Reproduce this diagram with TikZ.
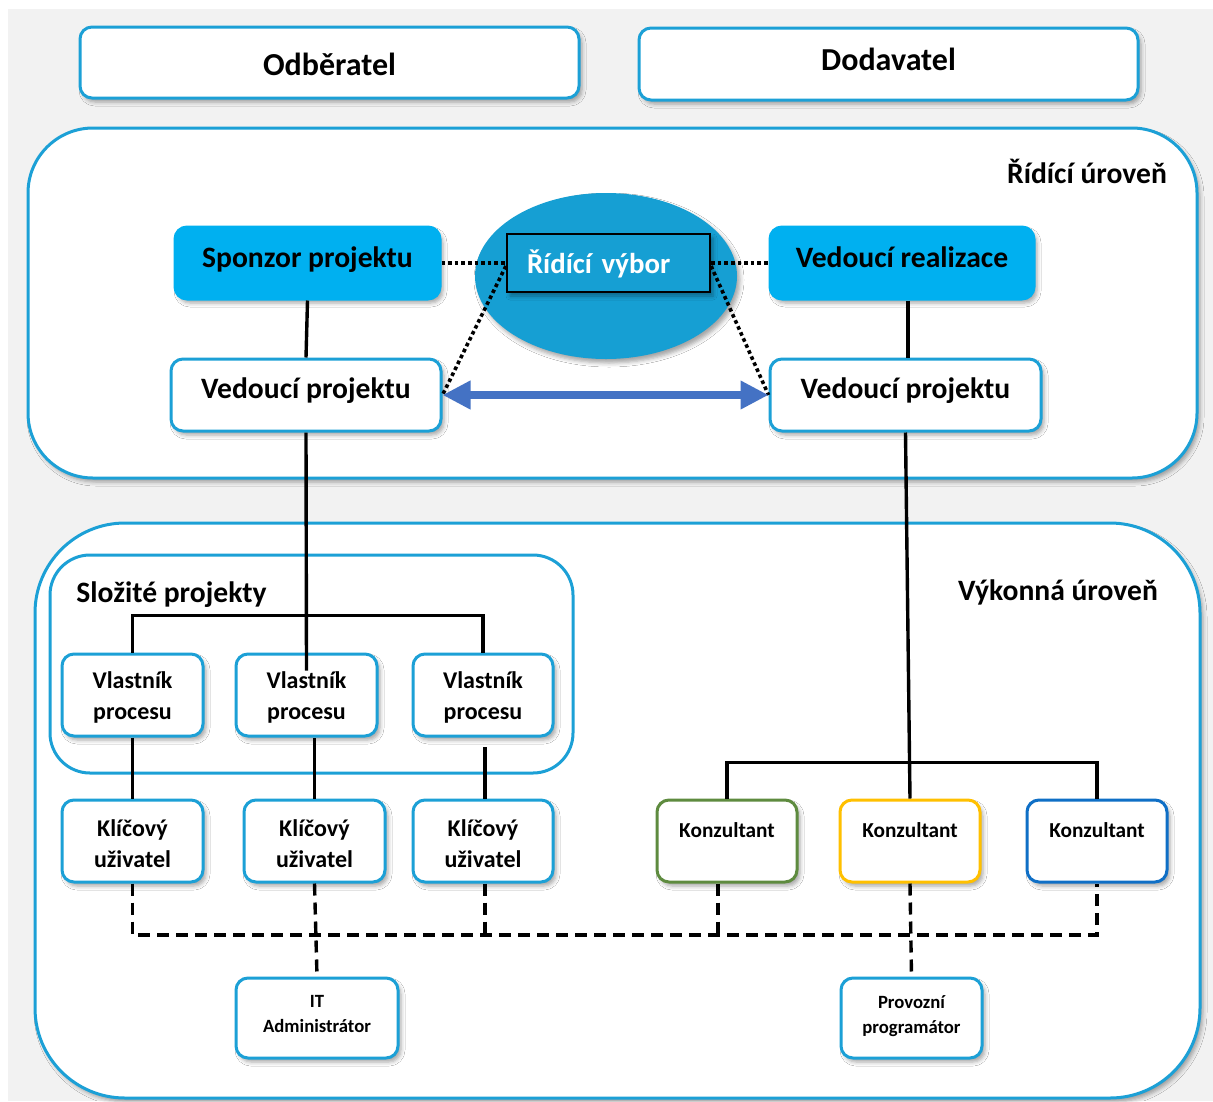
\documentclass[tikz,border=0pt]{standalone}
\usepackage{fontspec}
\setmainfont{Carlito}
\usetikzlibrary{arrows.meta,shadows.blur,calc,shapes.geometric}
\definecolor{cyanB}{HTML}{1CA0D6}
\definecolor{sponz}{HTML}{00B0F0}
\definecolor{ellc}{HTML}{169FD3}
\definecolor{bggray}{HTML}{F2F2F2}
\definecolor{kgreen}{HTML}{5E8B3F}
\definecolor{kyellow}{HTML}{FFC000}
\definecolor{kblue}{HTML}{0F6FC6}
\definecolor{arrowblue}{HTML}{4472C4}
\newcommand{\topst}[1]{\rule{0pt}{#1}}
\newcommand{\botst}[1]{\rule[-#1]{0pt}{#1}}
\tikzset{
  shd/.style={blur shadow={shadow xshift=3pt, shadow yshift=-4pt, shadow blur radius=4pt, shadow opacity=35}},
  panel/.style={draw=cyanB, line width=3pt, fill=white, shd, inner sep=0pt},
  box/.style={draw=cyanB, line width=3pt, fill=white, rounded corners=12pt, align=center, inner sep=0pt, shd},
  fbox/.style={box, fill=sponz, draw=sponz},
  bigf/.style={font=\bfseries\fontsize{29.6}{35}\selectfont},
  topf/.style={font=\bfseries\fontsize{32}{38}\selectfont},
  midf/.style={font=\bfseries\fontsize{24}{31}\selectfont},
  konf/.style={font=\bfseries\fontsize{21.3}{25}\selectfont},
  smf/.style={font=\bfseries\fontsize{18.7}{25}\selectfont},
  conn/.style={line width=3.4pt, black},
  dashline/.style={line width=3.4pt, black, dash pattern=on 12pt off 7pt},
  dotline/.style={line width=3.6pt, black, dash pattern=on 3.6pt off 3pt},
  konz/.style={box, konf, minimum width=140pt, minimum height=82pt, text height=13pt, text depth=21pt},
  td/.style 2 args={text height=#1pt, text depth=#2pt},
}
\begin{document}
\begin{tikzpicture}[x=1pt,y=-1pt]
\useasboundingbox (0,0) rectangle (1213,1101);
\fill[bggray] (8,9) rectangle (1213,1101);

% header boxes
\node[box, topf, td={27}{1}, minimum width=499pt, minimum height=71pt] (odb) at (329.5,62.5) {Odběratel};
\node[box, topf, td={22}{9}, minimum width=499pt, minimum height=72pt] (dod) at (888.5,64) {Dodavatel};

% panels
\node[panel, rounded corners=65pt, minimum width=1169pt, minimum height=350pt] (ridpanel) at (612.5,303) {};
\node[panel, rounded corners=90pt, minimum width=1165pt, minimum height=575pt] (vykpanel) at (617.5,810.5) {};
\node[bigf, anchor=center] (ridlabel) at (1087,171) {Řídící úroveň};
\node[bigf, anchor=center] (vyklabel) at (1058,592) {Výkonná úroveň};
\node[draw=cyanB, line width=3pt, fill=white, inner sep=0pt, rounded corners=40pt, minimum width=523pt, minimum height=218pt] (slozpanel) at (311.5,664) {};
\node[font=\bfseries\fontsize{29.6}{35}\selectfont] (slozlabel) at (171.5,595) {Složité projekty};

% steering level
\node[ellipse, fill=ellc, minimum width=262pt, minimum height=166pt, inner sep=0pt, shd] (ell) at (606,276) {};
\node[draw=black, line width=2.2pt, fill=ellc, minimum width=203pt, minimum height=58pt, text width=163pt, align=left, inner sep=0pt, font=\bfseries\fontsize{28.8}{34}\selectfont, td={26}{6}, text=white, shd] (rv) at (608.5,263) {Řídící výbor};
\node[fbox, bigf, td={21}{12}, minimum width=265pt, minimum height=72pt] (sp) at (307.5,263) {Sponzor projektu};
\node[fbox, bigf, td={21}{13}, minimum width=264pt, minimum height=72pt] (vr) at (902,263) {Vedoucí realizace};
\node[box, bigf, td={21}{14}, minimum width=270pt, minimum height=72pt] (vpL) at (306,395) {Vedoucí projektu};
\node[box, bigf, td={21}{14}, minimum width=271pt, minimum height=72pt] (vpR) at (905.5,395) {Vedoucí projektu};

% process owners
\node[box, midf, minimum width=141pt, minimum height=82pt] (vl1) at (132.5,695) {\topst{24pt}Vlastník\\procesu\botst{5.5pt}};
\node[box, midf, minimum width=141pt, minimum height=82pt] (vl2) at (306.5,695) {\topst{24pt}Vlastník\\procesu\botst{5.5pt}};
\node[box, midf, minimum width=140pt, minimum height=82pt] (vl3) at (483,695) {\topst{24pt}Vlastník\\procesu\botst{5.5pt}};

% key users
\node[box, midf, minimum width=141pt, minimum height=82pt] (kl1) at (132.5,841) {\topst{22pt}Klíčový\\uživatel};
\node[box, midf, minimum width=141pt, minimum height=82pt] (kl2) at (314.5,841) {\topst{22pt}Klíčový\\uživatel};
\node[box, midf, minimum width=140pt, minimum height=82pt] (kl3) at (483,841) {\topst{22pt}Klíčový\\uživatel};

% consultants
\node[konz, draw=kgreen] (k1) at (727,841) {Konzultant};
\node[konz, draw=kyellow] (k2) at (910,841) {Konzultant};
\node[konz, draw=kblue] (k3) at (1097,841) {Konzultant};

% bottom
\node[box, smf, minimum width=162pt, minimum height=80pt] (it) at (317,1018) {\topst{12pt}IT\\Administrátor\botst{8pt}};
\node[box, smf, minimum width=141pt, minimum height=80pt] (pp) at (911.5,1018) {\topst{13.5pt}Provozní\\programátor\botst{8pt}};

% solid connectors
\draw[conn] (sp.south) -- (vpL.north);
\draw[conn] ([xshift=6pt]vr.south) -- ([xshift=6pt]vr.south |- vpR.north);
\draw[conn] (vl1.north) -- ++(0,-37) -| (vl3.north);
\draw[conn] (vpL.south) -- ([yshift=-18pt]vl2.north);
\draw[conn] (vl1.south) -- (kl1.north);
\draw[conn] (kl2.north) -- (kl2.north |- vl2.south);
\draw[conn] ([xshift=2pt]kl3.north) -- ([xshift=2pt,yshift=-9pt]kl3.north |- vl3.south);
\draw[conn] (vpR.south) -- (k2.north);
\draw[conn] (k1.north) -- ++(0,-36) -| (k3.north);

% dashed connectors
\coordinate (dbus) at (0,935);
\draw[dashline] (kl1.south) -- (kl1.south |- dbus) -- (k3.south |- dbus) -- (k3.south);
\draw[dashline] (kl2.south) -- (it.north);
\draw[dashline] ([xshift=2pt]kl3.south) -- ([xshift=2pt]kl3.south |- dbus);
\draw[dashline] ([xshift=-9pt]k1.south) -- ([xshift=-9pt]k1.south |- dbus);
\draw[dashline] (k2.south) -- (pp.north);

% dotted connectors
\draw[dotline] (sp.east) -- (rv.west);
\draw[dotline] (rv.east) -- (vr.west);
\draw[dotline] ([yshift=-3pt]rv.west) -- (vpL.east);
\draw[dotline] ([yshift=-3pt]rv.east) -- (vpR.west);

% double arrow
\draw[line width=8pt, arrowblue, {Triangle[length=28pt,width=27pt]}-{Triangle[length=28pt,width=27pt]}] (vpL.east) -- (vpR.west);
\end{tikzpicture}
\end{document}
